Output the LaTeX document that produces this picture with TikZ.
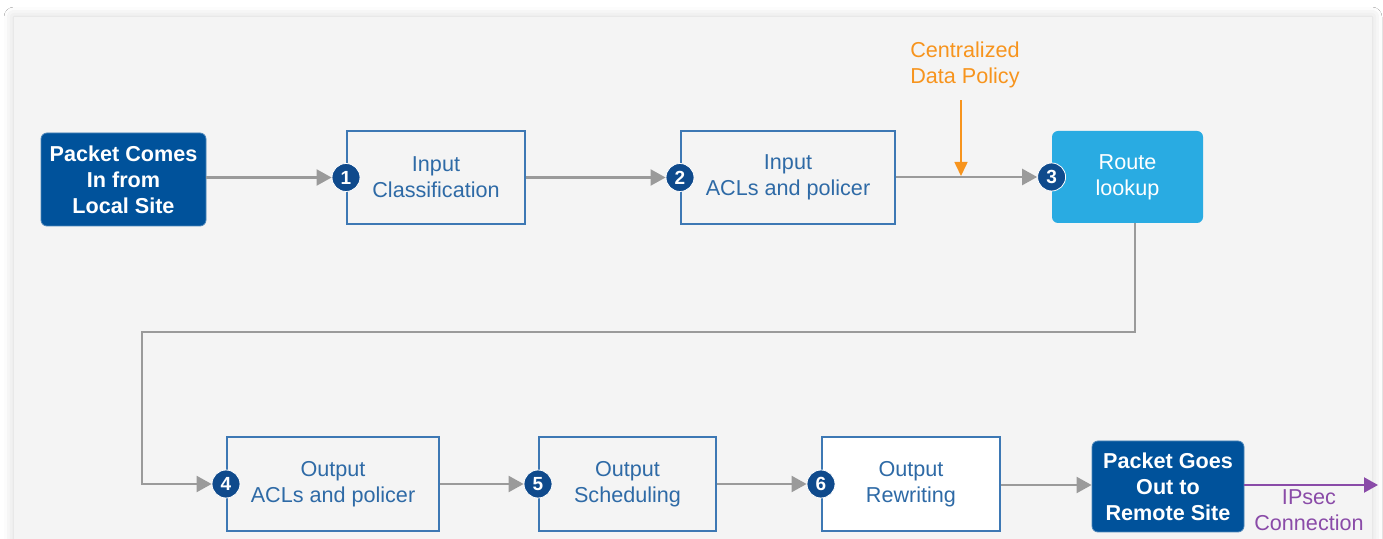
\documentclass[tikz,border=0pt]{standalone}
\usepackage{fontspec}
\setmainfont{Liberation Sans}
\usetikzlibrary{arrows.meta,shadows.blur}
\definecolor{panelgray}{HTML}{F4F4F4}
\definecolor{darkblue}{HTML}{00529B}
\definecolor{stepblue}{HTML}{3D78B4}
\definecolor{steptext}{HTML}{2E6AA6}
\definecolor{badgeblue}{HTML}{0F4A8C}
\definecolor{routecyan}{HTML}{29ABE2}
\definecolor{flowgray}{HTML}{9A9A9A}
\definecolor{policyorange}{HTML}{F7941D}
\definecolor{ipsecpurple}{HTML}{8A4BA8}
\tikzset{
  txt/.style={font=\fontsize{10.8}{13}\selectfont, align=center, inner sep=0pt},
  endpoint/.style={txt, font=\fontsize{10.8}{13}\selectfont\bfseries, fill=darkblue, text=white,
    rounded corners=3pt, draw=darkblue!70!white, line width=0.4pt},
  stepbox/.style={txt, draw=stepblue, line width=1pt, fill=panelgray, text=steptext},
  routebox/.style={txt, fill=routecyan, text=white, rounded corners=3pt},
  badge/.style={circle, fill=badgeblue, draw=white, line width=0.4pt, text=white,
    font=\fontsize{9.5}{9.5}\selectfont\bfseries, inner sep=0pt, minimum size=14pt},
  flow/.style={draw=flowgray, line width=1.1pt, -{Triangle[length=7.5pt,width=8pt]}},
  pol/.style={draw=policyorange, line width=0.8pt, -{Triangle[length=7pt,width=6.5pt]}},
  ipsec/.style={draw=ipsecpurple, line width=1.1pt, -{Triangle[length=7pt,width=7.5pt]}}
}
\begin{document}
\begin{tikzpicture}[x=0.5pt,y=-0.5pt]
\useasboundingbox (0,0) rectangle (1383,539);
\fill[white] (0,0) rectangle (1383,539);
\fill[panelgray, blur shadow={shadow xshift=0pt, shadow yshift=0pt, shadow blur radius=5pt, shadow opacity=18}]
  (14,17) rectangle (1372,560);

% top row
\node[endpoint, minimum width=82.5pt, minimum height=46.5pt] (pin) at (123.5,179.5)
  {Packet Comes\\In from\\Local Site};
\node[stepbox, minimum width=89pt, minimum height=46.5pt] (cls) at (436,177.5)
  {Input\\Classification};
\node[stepbox, minimum width=107pt, minimum height=46.5pt] (iacl) at (788,177.5)
  {Input\\ACLs and policer};
\node[routebox, minimum width=75.5pt, minimum height=46pt] (route) at (1127.5,177)
  {Route\\lookup};

% bottom row
\node[stepbox, minimum width=106pt, minimum height=47pt] (oacl) at (333,484)
  {Output\\ACLs and policer};
\node[stepbox, minimum width=88.5pt, minimum height=47pt] (sched) at (627.5,484)
  {Output\\Scheduling};
\node[stepbox, fill=white, minimum width=89pt, minimum height=47pt] (rew) at (911,484)
  {Output\\Rewriting};
\node[endpoint, minimum width=76pt, minimum height=45.5pt] (pout) at (1168,486.5)
  {Packet Goes\\Out to\\Remote Site};

% step badges
\node[badge] (b1) at (cls.west) {1};
\node[badge] (b2) at (iacl.west) {2};
\node[badge] (b3) at (route.west) {3};
\node[badge] (b4) at (oacl.west) {4};
\node[badge] (b5) at (sched.west) {5};
\node[badge] (b6) at (rew.west) {6};

% policy injection
\node[txt, text=policyorange] (policy) at (965,65) {Centralized\\Data Policy};
\coordinate (dp) at (961,176);

% routing of the wrap-around connector
\coordinate (wr) at (1135,332);
\coordinate (wl) at (142,332);
\coordinate (ipend) at (1378,485);

% connectors
\draw[flow] (pin.east |- b1) -- (b1);
\draw[flow] (cls.east |- b2) -- (b2);
\draw[flow] (iacl.east |- b3) -- (b3);
\draw[pol, shorten <=6pt] (policy.south -| dp) -- (dp);
\draw[flow] (route.south -| wr) -- (wr) -- (wl) -- (wl |- b4) -- (b4);
\draw[flow] (oacl.east |- b5) -- (b5);
\draw[flow] (sched.east |- b6) -- (b6);
\draw[flow] (rew.east |- ipend) -- (pout.west |- ipend);
\draw[ipsec] (pout.east |- ipend) -- (ipend);
\node[txt, text=ipsecpurple] (iplabel) at (1309,510) {IPsec\\Connection};
\end{tikzpicture}
\end{document}
